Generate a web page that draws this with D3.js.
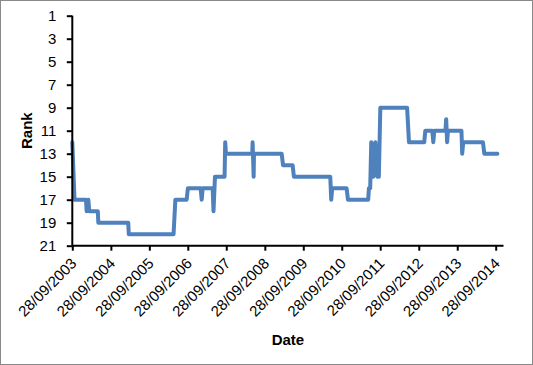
<!DOCTYPE html>
<html>
<head>
<meta charset="utf-8">
<script src="https://cdn.jsdelivr.net/npm/d3@7"></script>
<style>
  html, body { margin: 0; padding: 0; background: #fff; }
  svg { display: block; font-family: "Liberation Sans", Arial, sans-serif; }
</style>
</head>
<body>
<svg id="chart" width="533" height="365"></svg>
<script>
// rank history, one point per change of rank
var dates = [
    '2003-09-28', '2003-10-19', '2004-02-05', '2004-02-11', '2004-02-27', '2004-03-07',
    '2004-05-27', '2004-06-01', '2005-03-12', '2005-03-17', '2006-05-16', '2006-06-02',
    '2006-09-17', '2006-09-29', '2007-01-28', '2007-02-07', '2007-02-16', '2007-05-22',
    '2007-05-30', '2007-06-13', '2007-09-12', '2007-09-18', '2007-09-25', '2008-06-01',
    '2008-06-04', '2008-06-14', '2008-06-17', '2009-03-07', '2009-03-20', '2009-06-19',
    '2009-07-01', '2010-06-11', '2010-06-20', '2010-06-30', '2010-11-13', '2010-11-26',
    '2011-06-06', '2011-06-13', '2011-06-25', '2011-07-05', '2011-07-25', '2011-08-13',
    '2011-09-01', '2011-09-15', '2011-09-29', '2012-06-09', '2012-06-27', '2012-11-19',
    '2012-11-29', '2013-02-03', '2013-02-13', '2013-02-22', '2013-06-08', '2013-06-15',
    '2013-06-24', '2013-07-02', '2013-11-07', '2013-11-14', '2013-11-24', '2014-05-30',
    '2014-06-12', '2014-10-14'
];
var ranks = [
    12, 17, 17, 18, 17, 18,
    18, 19, 19, 20, 20, 17,
    17, 16, 16, 17, 16, 16,
    18, 15, 15, 12, 13, 13,
    12, 15, 13, 13, 14, 14,
    15, 15, 17, 16, 16, 17,
    17, 16, 16, 12, 15, 12,
    15, 15, 9, 9, 12, 12,
    11, 11, 12, 11, 11, 10,
    12, 11, 11, 13, 12, 12,
    13, 13
];

var tickDates = [
    '2003-09-28', '2004-09-28', '2005-09-28', '2006-09-28', '2007-09-28', '2008-09-28',
    '2009-09-28', '2010-09-28', '2011-09-28', '2012-09-28', '2013-09-28', '2014-09-28'
];
var rankTicks = [1, 3, 5, 7, 9, 11, 13, 15, 17, 19, 21];
var xDomain = ['2003-09-28', '2014-12-11'];
var yDomain = [1, 21];

var parse = d3.utcParse('%Y-%m-%d');
var fmt = d3.utcFormat('%d/%m/%Y');

var margin = {left: 72.3, right: 29.5, top: 15.7, bottom: 119.3};
var W = 533, H = 365;
var fontSize = '15px';

var svg = d3.select('#chart');

svg.append('rect')
    .attr('x', 0.5).attr('y', 0.5)
    .attr('width', W - 1).attr('height', H - 1)
    .attr('fill', '#fff')
    .attr('stroke', '#898989');

var x = d3.scaleUtc()
    .domain(xDomain.map(parse))
    .range([margin.left, W - margin.right]);

var y = d3.scaleLinear()
    .domain(yDomain)
    .range([margin.top, H - margin.bottom]);

var points = dates.map(function(d, i) { return {date: parse(d), rank: ranks[i]}; });

var line = d3.line()
    .x(function(d) { return x(d.date); })
    .y(function(d) { return y(d.rank); });

svg.append('path')
    .datum(points)
    .attr('d', line)
    .attr('fill', 'none')
    .attr('stroke', '#4F81BD')
    .attr('stroke-width', 4)
    .attr('stroke-linejoin', 'round')
    .attr('stroke-linecap', 'round');

// y axis
var yAxis = d3.axisLeft(y)
    .tickValues(rankTicks)
    .tickSize(5.5)
    .tickPadding(10.5)
    .tickFormat(d3.format('d'));

var gy = svg.append('g')
    .attr('transform', 'translate(' + margin.left + ',0)')
    .call(yAxis);

// x axis
var xAxis = d3.axisBottom(x)
    .tickValues(tickDates.map(parse))
    .tickSize(5)
    .tickFormat(fmt);

var gx = svg.append('g')
    .attr('transform', 'translate(0,' + (H - margin.bottom) + ')')
    .call(xAxis);

gx.selectAll('.tick text')
    .attr('text-anchor', 'end')
    .attr('transform', 'translate(1,15) rotate(-45)')
    .attr('x', 0).attr('y', 0)
    .attr('dy', '0.35em');

[gx, gy].forEach(function(g) {
    g.select('.domain').attr('stroke', '#000').attr('stroke-width', 2);
    g.selectAll('.tick line').attr('stroke', '#000').attr('stroke-width', 2);
    g.selectAll('.tick text')
        .attr('fill', '#000')
        .style('font-size', fontSize)
        .style('font-family', '"Liberation Sans", Arial, sans-serif');
});
gy.select('.domain').attr('d', 'M0,' + margin.top + 'V' + (H - margin.bottom));
gx.select('.domain').attr('d', 'M' + margin.left + ',0H' + (W - margin.right));

// axis titles
svg.append('text')
    .attr('transform', 'translate(31.5,' + ((margin.top + H - margin.bottom) / 2) + ') rotate(-90)')
    .attr('text-anchor', 'middle')
    .style('font-size', fontSize)
    .style('font-weight', 'bold')
    .text('Rank');

svg.append('text')
    .attr('x', (margin.left + W - margin.right) / 2)
    .attr('y', 345)
    .attr('text-anchor', 'middle')
    .style('font-size', fontSize)
    .style('font-weight', 'bold')
    .text('Date');
</script>
</body>
</html>
